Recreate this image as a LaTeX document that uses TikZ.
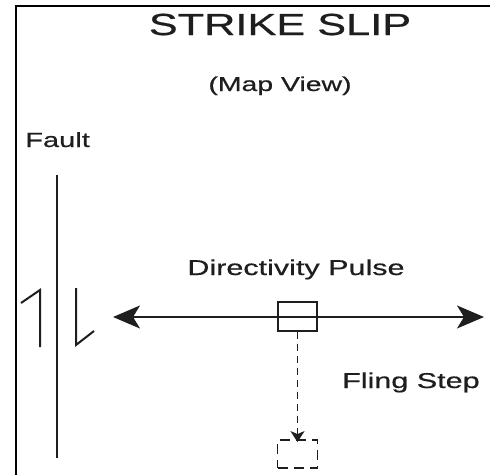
\documentclass[tikz,border=0pt]{standalone}
\usepackage{fontspec}
\setmainfont[FakeStretch=1.42,FakeBold=0.6]{Liberation Sans}
\usepackage{tikz}
\usetikzlibrary{arrows.meta}
\definecolor{inkGrey}{RGB}{30,30,30}
\tikzset{
  lbl/.style={inner sep=0pt,text=inkGrey},
  stroke/.style={draw=inkGrey,line width=2pt},
  boxsq/.style={draw=inkGrey,line width=1.8pt,minimum width=39pt,minimum height=29pt,inner sep=0pt}
}

\begin{document}
\begin{tikzpicture}[x=1pt,y=-1pt]
  \useasboundingbox (0,0) rectangle (490,474);
  \def\fx{57}\def\ay{317}\def\sx{297.5}
  % frame
  \draw[line width=2.6pt,line cap=rect] (16,474) -- (16,6) -- (490,6);
  % texts
  \node[lbl,anchor=base,font=\fontsize{30.5}{30.5}\selectfont] (title) at (280,35) {STRIKE SLIP};
  \node[lbl,anchor=base,font=\fontsize{20}{20}\selectfont] (view) at (280,91) {(Map View)};
  \node[lbl,anchor=base west,font=\fontsize{20.5}{20.5}\selectfont] (fault) at (25,147) {Fault};
  \node[lbl,anchor=base,font=\fontsize{21.5}{21.5}\selectfont] (pulse) at (296,275) {Directivity Pulse};
  \node[lbl,anchor=base west,font=\fontsize{21.5}{21.5}\selectfont] (fling) at (342,388) {Fling Step};
  % fault trace with slip sense
  \coordinate (ftop) at (\fx,175);
  \coordinate (fbot) at (\fx,458);
  \draw[stroke] (ftop) -- (fbot);
  \draw[stroke] (21,303) -- (40,290) -- (40,347);
  \draw[stroke] (76,288) -- (76,345) -- (94,331);
  % directivity
  \coordinate (wl) at (113,\ay);
  \coordinate (wr) at (484,\ay);
  \draw[stroke,line width=1.8pt,{Stealth[length=27pt,width=23pt,inset=7pt]}-{Stealth[length=27pt,width=23pt,inset=7pt]}] (wl) -- (wr);
  \node[boxsq] (src) at (\sx,316.5) {};
  % fling step
  \node[boxsq,dash pattern=on 10pt off 6pt,minimum width=40pt,minimum height=28pt] (fin) at (\sx,454) {};
  \draw[stroke,line width=1.7pt,dash pattern=on 7pt off 5pt,-{Stealth[length=11pt,width=14pt,inset=3pt]}] (src.south) -- ([yshift=-3pt]fin.north);
\end{tikzpicture}
\end{document}
